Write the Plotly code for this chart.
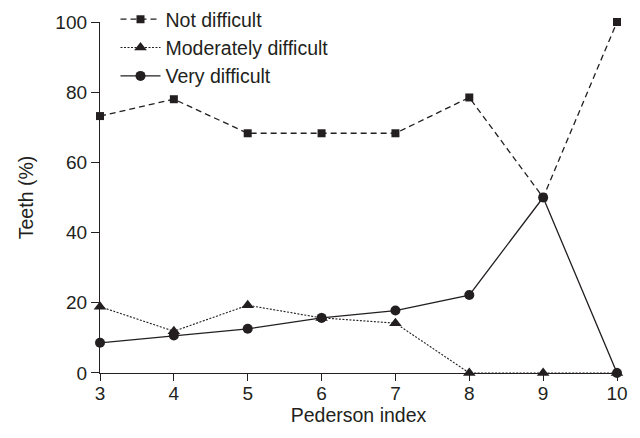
import plotly.graph_objects as go

pederson = [3, 4, 5, 6, 7, 8, 9, 10]
not_difficult = [73.2, 78.0, 68.3, 68.3, 68.3, 78.5, 50.0, 100.0]
moderately_difficult = [18.9, 11.9, 19.3, 15.7, 14.2, 0.0, 0.0, 0.0]
very_difficult = [8.6, 10.7, 12.6, 15.7, 17.8, 22.2, 50.0, 0.0]
x_ticks = [3, 4, 5, 6, 7, 8, 9, 10]
y_ticks = [0, 20, 40, 60, 80, 100]

ink = "#231f20"
fig = go.Figure()
fig.add_trace(go.Scatter(x=pederson, y=not_difficult, name="Not difficult",
                         mode="lines+markers", cliponaxis=False,
                         line=dict(color=ink, width=1.3, dash="6px,4px"),
                         marker=dict(symbol="square", size=8, color=ink)))
fig.add_trace(go.Scatter(x=pederson, y=moderately_difficult, name="Moderately difficult",
                         mode="lines+markers", cliponaxis=False,
                         line=dict(color=ink, width=1.1, dash="2px,1.5px"),
                         marker=dict(symbol="triangle-up", size=11, color=ink)))
fig.add_trace(go.Scatter(x=pederson, y=very_difficult, name="Very difficult",
                         mode="lines+markers", cliponaxis=False,
                         line=dict(color=ink, width=1.3),
                         marker=dict(symbol="circle", size=10, color=ink)))

fig.update_layout(
    width=640, height=438,
    margin=dict(l=100, r=23, t=0, b=65),
    paper_bgcolor="white", plot_bgcolor="white",
    font=dict(family="Liberation Sans, Arial, sans-serif", size=19, color=ink),
    showlegend=True,
    legend=dict(x=0.03, y=1.0, xanchor="left", yanchor="top",
                bgcolor="rgba(0,0,0,0)", font=dict(size=19.5),
                itemwidth=40, tracegroupgap=0, borderwidth=0),
    xaxis=dict(range=[3, 10], tickvals=x_ticks, showgrid=False, zeroline=False,
               showline=True, linecolor=ink, linewidth=1.3, automargin=False,
               ticks="outside", ticklen=7, tickcolor=ink, tickfont=dict(size=19),
               ticklabelstandoff=-4,
               title=dict(text="Pederson index", standoff=3, font=dict(size=19.5))),
    yaxis=dict(range=[0, 100], tickvals=y_ticks, showgrid=False, zeroline=False,
               domain=[0, 0.941],
               showline=True, linecolor=ink, linewidth=1.3, automargin=False,
               ticks="outside", ticklen=8, tickcolor=ink, tickfont=dict(size=19),
               title=dict(text="Teeth (%)", standoff=16, font=dict(size=19.5))),
)
fig.write_html("out.html", config={"displayModeBar": False},
               post_script="document.body.style.margin='0px';")
